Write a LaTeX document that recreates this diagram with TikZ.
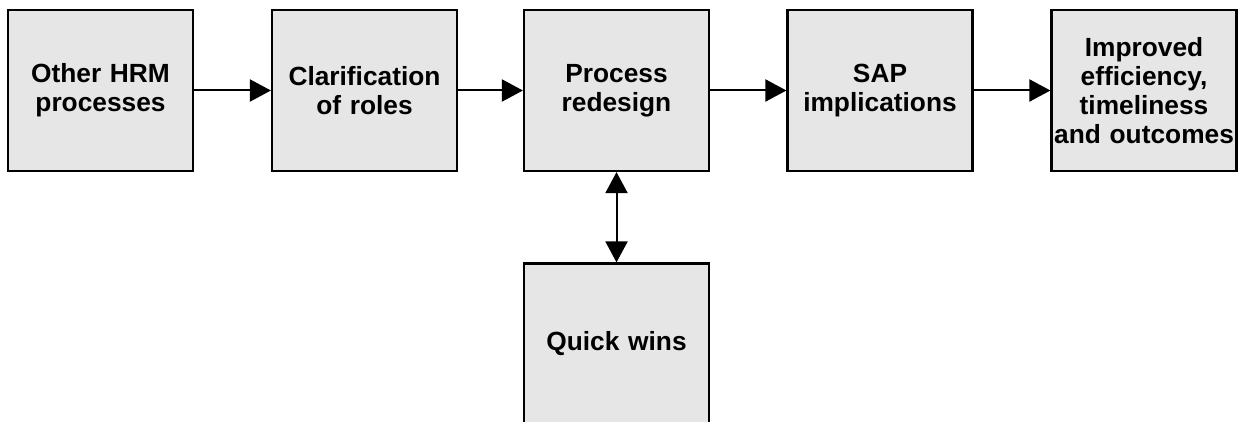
\documentclass[tikz,border=0pt]{standalone}
\usepackage{fontspec}
\setmainfont{Liberation Sans}
\usetikzlibrary{arrows.meta}
\definecolor{boxfill}{HTML}{E6E6E6}
\tikzset{
  box/.style={draw=black, fill=boxfill, line width=2.2pt, minimum width=185pt, minimum height=161pt,
    text width=181pt, inner sep=0pt, align=center,
    font=\fontsize{26.3}{28.8}\selectfont\bfseries},
  conn/.style={line width=2pt, -{Triangle[length=21pt,width=22pt]}},
  dconn/.style={line width=2pt, {Triangle[length=21pt,width=22pt]}-{Triangle[length=21pt,width=22pt]}}
}
\begin{document}
\begin{tikzpicture}[x=1pt,y=-1pt]
\useasboundingbox (0,0) rectangle (1241,422);
\node[box] (a) at (100.5,90.5) {Other HRM\\processes};
\node[box] (b) at (364.5,90.5) {Clarification\\of roles};
\node[box] (c) at (616.5,90.5) {Process\\redesign};
\node[box] (d) at (880,90.5) {SAP\\implications};
\node[box] (e) at (1144,90.5) {Improved\\efficiency,\\timeliness\\and outcomes};
\node[box] (q) at (616.5,344) {Quick wins};
\draw[conn] (a) -- (b);
\draw[conn] (b) -- (c);
\draw[conn] (c) -- (d);
\draw[conn] (d) -- (e);
\draw[dconn] (c) -- (q);
\end{tikzpicture}
\end{document}
